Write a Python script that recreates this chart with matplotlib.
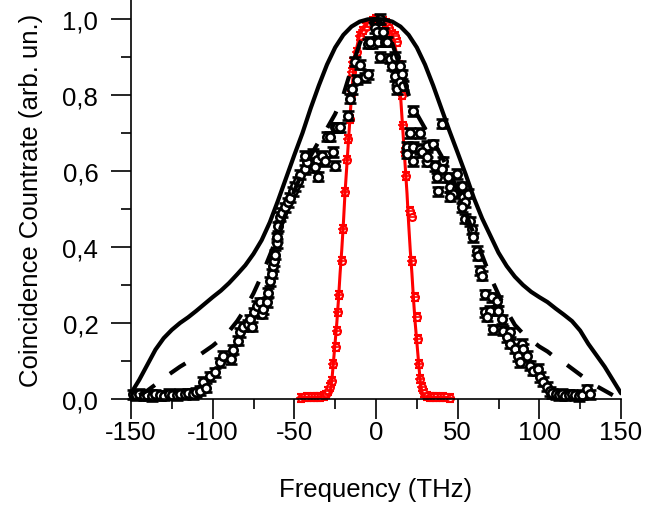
import matplotlib
matplotlib.use("Agg")
import matplotlib.pyplot as plt
import numpy as np

plt.rcParams['font.family'] = ['Liberation Sans', 'DejaVu Sans']

# ---- data ----
# broad (black) measured spectrum
black_x = [-149, -147, -145, -142, -140, -137, -135, -132, -130, -127, -125, -122, -120, -117, -115,
           -112, -110, -108, -106, -104, -101.6, -98.6, -95.5, -93.6, -89, -87.5, -84.5, -83, -81.4,
           -78.4, -76, -77, -75, -73, -71, -69.8, -69, -66.9, -66, -65, -63.7, -63, -62.5, -62,
           -60.6, -60.6, -60, -58.8, -57.6, -55.7, -53.9, -52.7, -50.8, -49.6, -47.8, -46.5, -43.5,
           -42.3, -43.5, -38.6, -36, -37.3, -35.5, -33, -31.2, -30, -28.2, -26.3, -25, -25, -23.9,
           -22, -17, -16, -14.7, -11.6, -6.7, -4.9, -12.9, -9.8, -4.9, -2.4, -3.7, -0.6, 0.6, 1.2,
           2.4, 4.3, 5.5, 6.7, 2.4, 8.6, 9.8, 11.6, 12.9, 12.9, 14.7, 11.6, 15.9, 14.7, 16.5, 22.7,
           40.4, 21, 27, 19, 22.7, 27, 31.2, 35, 19, 22.7, 28.2, 31.2, 31.2, 36, 41, 40.4, 37.3, 38,
           44, 49.6, 45.3, 49.6, 52.6, 47.2, 45.3, 53.3, 56.3, 54.5, 52.6, 54.5, 57.5, 58.7, 59.4,
           61.8, 62.5, 63.7, 64.9, 66.7, 71, 74, 66.7, 69.8, 68, 74.7, 71.6, 77, 78, 82, 80, 82, 85,
           89.4, 90, 92.4, 87, 88, 94.3, 96, 99.2, 100.4, 102.3, 104.7, 106.5, 108, 110, 112, 114,
           116, 118, 120, 122, 124, 126, 129, 131]
black_y = [0.012, 0.010, 0.013, 0.009, 0.011, 0.008, 0.012, 0.010, 0.009, 0.013, 0.011, 0.010, 0.014,
           0.012, 0.015, 0.013, 0.018, 0.022, 0.045, 0.030, 0.060, 0.070, 0.097, 0.113, 0.105, 0.130,
           0.153, 0.175, 0.190, 0.197, 0.190, 0.210, 0.228, 0.245, 0.255, 0.224, 0.236, 0.255, 0.280,
           0.310, 0.330, 0.350, 0.363, 0.380, 0.410, 0.425, 0.455, 0.480, 0.490, 0.505, 0.518, 0.530,
           0.547, 0.560, 0.573, 0.590, 0.605, 0.623, 0.640, 0.645, 0.630, 0.610, 0.585, 0.640, 0.626,
           0.690, 0.690, 0.650, 0.614, 0.715, 0.715, 0.715, 0.745, 0.790, 0.815, 0.840, 0.847, 0.855,
           0.887, 0.880, 0.935, 0.935, 0.940, 0.975, 0.965, 0.940, 1.000, 0.965, 0.940, 0.940, 0.900,
           0.895, 0.877, 0.850, 0.830, 0.815, 0.877, 0.900, 0.855, 0.834, 0.824, 0.758, 0.724, 0.700,
           0.700, 0.663, 0.663, 0.658, 0.666, 0.670, 0.645, 0.626, 0.650, 0.624, 0.637, 0.613, 0.626,
           0.605, 0.584, 0.547, 0.584, 0.592, 0.558, 0.553, 0.560, 0.540, 0.532, 0.532, 0.540, 0.518,
           0.505, 0.474, 0.468, 0.447, 0.426, 0.390, 0.377, 0.337, 0.324, 0.276, 0.268, 0.258, 0.228,
           0.232, 0.216, 0.232, 0.184, 0.210, 0.180, 0.176, 0.163, 0.145, 0.132, 0.145, 0.132, 0.113,
           0.113, 0.097, 0.087, 0.074, 0.079, 0.058, 0.045, 0.032, 0.020, 0.015, 0.012, 0.010, 0.013,
           0.009, 0.011, 0.012, 0.010, 0.008, 0.011, 0.026, 0.012]

# narrow (red) measured spectrum
red_x = [-46, -44, -42, -40, -38, -36, -34, -32, -30.5, -29.4, -28.2, -27, -26.3, -24.5, -24, -23.2,
         -22.6, -20.8, -20, -19, -17.8, -17, -16, -15.3, -14.7, -14, -11.6, -9.8, -8, -6, -4, -2, 0,
         2, 4, 6, 8, 10, 11.6, 12.9, 14, 15.7, 16.5, 17.8, 18.5, 20.8, 22, 22, 23.9, 25, 25.7, 26.3,
         27, 28.2, 29.5, 31, 33, 35, 37, 39, 41, 43, 45]
red_y = [0.003, 0.004, 0.005, 0.004, 0.006, 0.005, 0.006, 0.008, 0.012, 0.021, 0.032, 0.047, 0.092,
         0.137, 0.180, 0.228, 0.274, 0.364, 0.447, 0.545, 0.630, 0.684, 0.737, 0.800, 0.860, 0.887,
         0.913, 0.955, 0.970, 0.980, 0.990, 0.995, 1.000, 1.000, 0.995, 0.990, 0.975, 0.960, 0.955,
         0.940, 0.880, 0.800, 0.720, 0.650, 0.587, 0.495, 0.480, 0.363, 0.268, 0.216, 0.158, 0.092,
         0.053, 0.032, 0.015, 0.008, 0.006, 0.005, 0.006, 0.004, 0.005, 0.004, 0.003]

# theory curves
solid_x = [-150, -145, -140, -135, -130, -125, -120, -115, -110, -105, -100, -95, -90, -85, -80, -75,
           -70, -65, -60, -55, -50, -45, -40, -35, -30, -25, -20, -15, -10, -5, 0,
           5, 10, 15, 20, 25, 30, 35, 40, 45, 50, 55, 60, 65, 70, 75, 80, 85, 90, 95, 100,
           105, 110, 115, 120, 125, 130, 135, 140, 145, 150]
solid_y = [0.015, 0.050, 0.090, 0.130, 0.160, 0.182, 0.200, 0.215, 0.232, 0.250, 0.268, 0.285, 0.305,
           0.328, 0.352, 0.382, 0.418, 0.465, 0.522, 0.582, 0.642, 0.700, 0.765, 0.825, 0.880, 0.925,
           0.958, 0.980, 0.993, 0.999, 1.000,
           0.999, 0.993, 0.980, 0.958, 0.925, 0.880, 0.825, 0.765, 0.705, 0.648, 0.590, 0.528, 0.475,
           0.430, 0.385, 0.350, 0.322, 0.300, 0.282, 0.268, 0.255, 0.238, 0.222, 0.205, 0.180, 0.145,
           0.115, 0.085, 0.050, 0.015]

dash_x = [-145, -140, -135, -130, -125, -120, -115, -110, -105, -100, -95, -90, -85, -80, -75, -70,
          -65, -60, -55, -50, -45, -40, -35, -30, -25, -20, -15, -10, -5, 0,
          5, 10, 15, 20, 25, 30, 35, 40, 45, 50, 55, 60, 65, 70, 75, 80, 85, 90, 95, 100,
          105, 110, 115, 120, 125, 130, 135, 140, 145]
dash_y = [0.010, 0.022, 0.038, 0.055, 0.070, 0.085, 0.098, 0.110, 0.125, 0.140, 0.158, 0.178, 0.205,
          0.238, 0.278, 0.325, 0.378, 0.432, 0.490, 0.548, 0.598, 0.640, 0.678, 0.712, 0.750, 0.800,
          0.870, 0.935, 0.983, 1.000,
          0.983, 0.935, 0.870, 0.800, 0.750, 0.712, 0.678, 0.640, 0.598, 0.548, 0.490, 0.432, 0.378,
          0.322, 0.275, 0.232, 0.195, 0.172, 0.155, 0.138, 0.125, 0.108, 0.096, 0.080, 0.064, 0.048,
          0.034, 0.022, 0.010]

redline_x = [-46, -40, -35, -30, -29, -28, -27, -26, -25, -24, -23, -22, -21, -20, -19, -17, -15, -13,
             -10, -5, 0, 5, 10, 13, 15, 17, 19, 20, 21, 22, 23, 24, 25, 26, 27, 28, 29, 30, 35, 40, 46]
redline_y = [0.0, 0.0, 0.0, 0.0, 0.005, 0.02, 0.05, 0.10, 0.15, 0.20, 0.26, 0.33, 0.39, 0.46, 0.54,
             0.67, 0.80, 0.90, 0.96, 0.99, 1.0, 0.99, 0.96, 0.90, 0.80, 0.67, 0.54, 0.46, 0.39, 0.33,
             0.26, 0.20, 0.15, 0.10, 0.05, 0.02, 0.005, 0.0, 0.0, 0.0, 0.0]

xticks = [-150, -100, -50, 0, 50, 100, 150]
xtick_labels = ['-150', '-100', '-50', '0', '50', '100', '150']
yticks = [0.0, 0.2, 0.4, 0.6, 0.8, 1.0]
ytick_labels = ['0,0', '0,2', '0,4', '0,6', '0,8', '1,0']

# ---- figure ----
fig = plt.figure(figsize=(6.72, 5.10), dpi=100)
ax = fig.add_axes([131 / 672, 110 / 510, 490 / 672, 400 / 510])

# red data
ax.errorbar(red_x, red_y, yerr=0.01, fmt='o', ms=5, mfc='white', mec='red', mew=1.5,
            ecolor='red', elinewidth=1.2, capsize=3, capthick=1.2, zorder=3, clip_on=False)
ax.plot(red_x, red_y, linestyle='none', marker='_', ms=7, mec='red', mew=1.2, zorder=3.1,
        clip_on=False)
ax.plot(redline_x, redline_y, color='red', lw=2.2, zorder=3.2)

# black data
ax.errorbar(black_x, black_y, yerr=0.012, fmt='o', ms=6, mfc='white', mec='black', mew=1.9,
            ecolor='black', elinewidth=1.4, capsize=4, capthick=1.8, zorder=4, clip_on=False)

# theory curves
ax.plot(solid_x, solid_y, color='black', lw=3, zorder=5, solid_capstyle='round')
ax.plot(dash_x, dash_y, color='black', lw=3, zorder=5, linestyle=(0, (4.5, 4.5)))

ax.set_xlim(-150, 150)
ax.set_ylim(0, 1.0526)

ax.spines['top'].set_visible(False)
ax.spines['right'].set_visible(False)
for s in ['left', 'bottom']:
    ax.spines[s].set_linewidth(1.2)
    ax.spines[s].set_zorder(6)

ax.set_xticks(xticks)
ax.set_xticklabels(xtick_labels)
ax.set_xticks([-125, -75, -25, 25, 75, 125], minor=True)
ax.set_yticks(yticks)
ax.set_yticklabels(ytick_labels)
ax.set_yticks([0.1, 0.3, 0.5, 0.7, 0.9], minor=True)

ax.tick_params(which='major', direction='out', length=14.5, width=1.2, labelsize=18.5)
ax.tick_params(axis='x', which='major', pad=0.5)
ax.tick_params(axis='y', which='major', pad=9)
ax.tick_params(which='minor', direction='out', length=7, width=1.2)

ax.set_xlabel('Frequency (THz)', fontsize=18.5, labelpad=24)
ax.set_ylabel('Coincidence Countrate (arb. un.)', fontsize=18.5, labelpad=14)

fig.savefig('out.png', dpi=100)
